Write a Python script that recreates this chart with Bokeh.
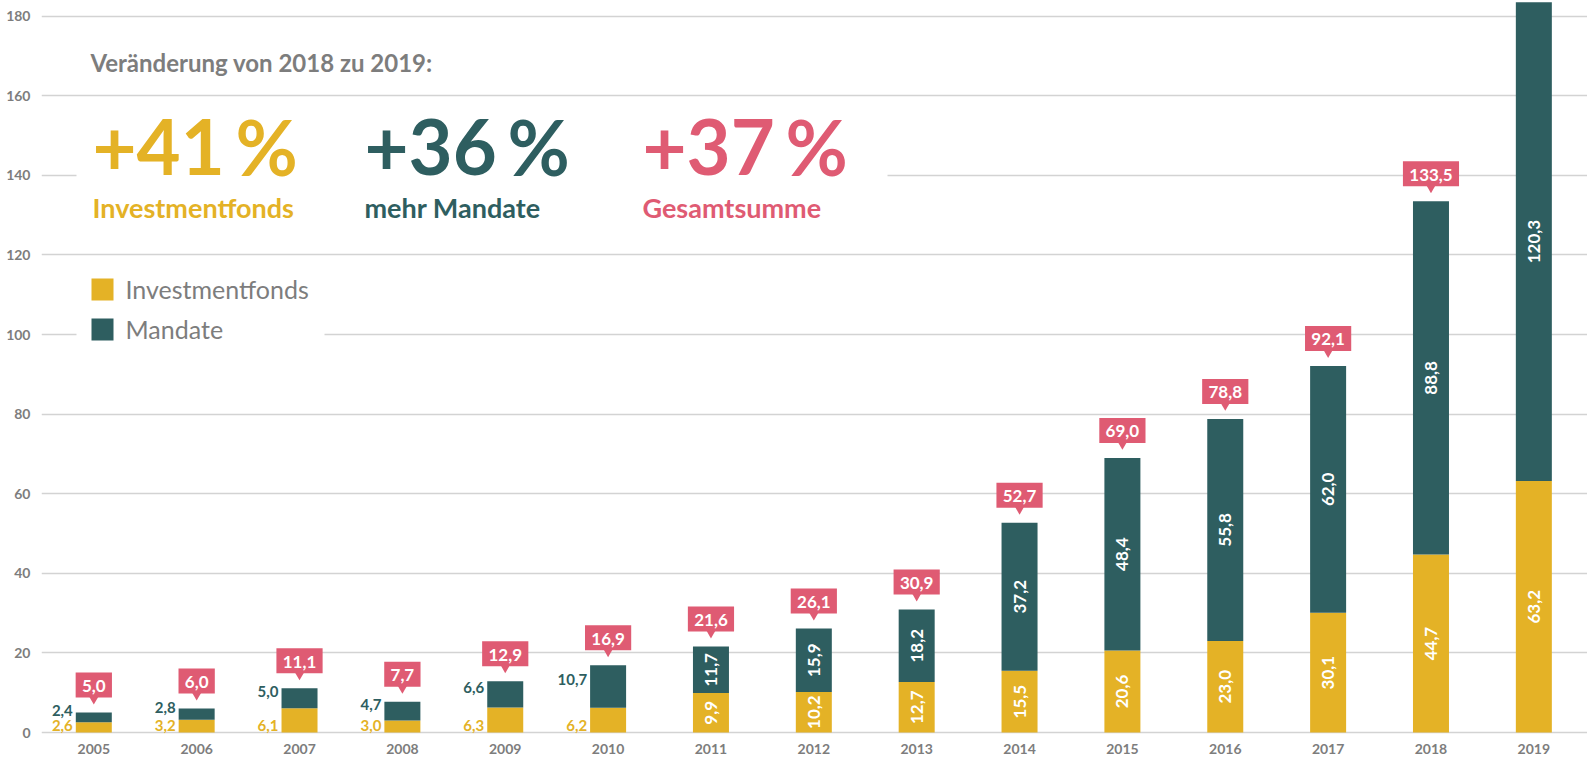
import math
from bokeh.plotting import figure
from bokeh.models import FixedTicker, ColumnDataSource
from bokeh.core.properties import value
from bokeh.embed import file_html
from bokeh.resources import INLINE

# ---------------- data ----------------
years = [2005, 2006, 2007, 2008, 2009, 2010, 2011, 2012, 2013, 2014, 2015, 2016, 2017, 2018, 2019]
investmentfonds = [2.6, 3.2, 6.1, 3.0, 6.3, 6.2, 9.9, 10.2, 12.7, 15.5, 20.6, 23.0, 30.1, 44.7, 63.2]
mandate = [2.4, 2.8, 5.0, 4.7, 6.6, 10.7, 11.7, 15.9, 18.2, 37.2, 48.4, 55.8, 62.0, 88.8, 120.3]
total_years = [2005, 2006, 2007, 2008, 2009, 2010, 2011, 2012, 2013, 2014, 2015, 2016, 2017, 2018]
totals = [5.0, 6.0, 11.1, 7.7, 12.9, 16.9, 21.6, 26.1, 30.9, 52.7, 69.0, 78.8, 92.1, 133.5]
y_ticks = [0, 20, 40, 60, 80, 100, 120, 140, 160, 180]
header = "Veränderung von 2018 zu 2019:"
change_numbers = ["+41", "+36", "+37"]
change_labels = ["Investmentfonds", "mehr Mandate", "Gesamtsumme"]
series_names = ["Investmentfonds", "Mandate"]

YELLOW = "#E4B226"
TEAL = "#2E5E60"
PINK = "#DF5B73"
GREY = "#7D7D7D"
GRID = "#D3D3D3"
FONT = "Lato"

def fmt(v):
    return f"{v:.1f}".replace(".", ",")

# ---------------- geometry (page pixels) ----------------
W, H = 1587, 758
LEFT = 41
PPX = 102.86           # pixels per year
PPU = 3.98             # pixels per unit
ZERO_PX = 732          # y pixel of value 0
X0 = years[0] - (93.3 - LEFT) / PPX
X1 = X0 + (W - LEFT) / PPX
Y0 = -(H - ZERO_PX) / PPU
Y1 = ZERO_PX / PPU

def fx(px):
    return X0 + (px - LEFT) / PPX

def fy(py):
    return Y1 - py / PPU

p = figure(width=W, height=H, x_range=(X0, X1), y_range=(Y0, Y1),
           output_backend="svg", toolbar_location=None,
           min_border_left=LEFT, min_border_right=0, min_border_top=0, min_border_bottom=0)
p.outline_line_color = None
p.background_fill_color = "white"
p.border_fill_color = "white"

p.xaxis.visible = False
p.xgrid.visible = False
p.yaxis.ticker = FixedTicker(ticks=y_ticks)
p.ygrid.ticker = FixedTicker(ticks=y_ticks)
p.ygrid.grid_line_color = GRID
p.ygrid.grid_line_width = 1.5
p.yaxis.axis_line_color = None
p.yaxis.major_tick_line_color = None
p.yaxis.minor_tick_line_color = None
p.yaxis.major_label_standoff = 5
p.yaxis.major_label_text_font = FONT
p.yaxis.major_label_text_font_style = "bold"
p.yaxis.major_label_text_font_size = "14px"
p.yaxis.major_label_text_color = GREY

# white boxes hiding grid lines behind header and legend
p.quad(left=[fx(76), fx(76)], right=[fx(887), fx(324)], bottom=[125, 85], top=[155, 115],
       fill_color="white", line_color=None)

# ---------------- bars ----------------
tops = [a + b for a, b in zip(investmentfonds, mandate)]
src = ColumnDataSource(dict(x=years, inv=investmentfonds, man=mandate, top=tops,
                            zero=[0] * len(years)))
BW = 36 / PPX
p.vbar(x="x", bottom="zero", top="inv", width=BW, source=src, fill_color=YELLOW, line_color=None)
p.vbar(x="x", bottom="inv", top="top", width=BW, source=src, fill_color=TEAL, line_color=None)

# year labels
p.text(x=years, y=[0] * len(years), text=[str(y) for y in years], y_offset=16,
       text_align="center", text_baseline="middle", text_font=value(FONT),
       text_font_style="bold", text_font_size=value("14px"), text_color=GREY)

# values: small bars -> outside left; large bars -> rotated inside
sx, s_man_y, s_inv_t, s_man_t = [], [], [], []
ix, iy, it = [], [], []
for yr, a, b in zip(years, investmentfonds, mandate):
    if a + b < 20:
        sx.append(yr - BW / 2)
        s_man_y.append(a + b / 2)
        s_inv_t.append(fmt(a))
        s_man_t.append(fmt(b))
    else:
        top_vis = min(a + b, Y1)
        ix += [yr, yr]
        iy += [a / 2, (a + top_vis) / 2]
        it += [fmt(a), fmt(b)]

p.text(x=sx, y=[0] * len(sx), text=s_inv_t, x_offset=-3, y_offset=-7,
       text_align="right", text_baseline="middle", text_font=value(FONT),
       text_font_style="bold", text_font_size=value("15px"), text_color=YELLOW)
p.text(x=sx, y=s_man_y, text=s_man_t, x_offset=-3, y_offset=-7,
       text_align="right", text_baseline="middle", text_font=value(FONT),
       text_font_style="bold", text_font_size=value("15px"), text_color=TEAL)
p.text(x=ix, y=iy, text=it, angle=math.pi / 2,
       text_align="center", text_baseline="middle", text_font=value(FONT),
       text_font_style="bold", text_font_size=value("17px"), text_color="white")

# total callouts: box + pointer
box_w = [sum(9.9 if ch.isdigit() else 4.5 for ch in fmt(t)) + 12 for t in totals]
box_y = [t + 27.5 / PPU for t in totals]
p.rect(x=total_years, y=box_y, width=box_w, height=25, width_units="screen",
       height_units="screen", fill_color=PINK, line_color=None)
p.scatter(x=total_years, y=[t + 13.8 / PPU for t in totals], marker="inverted_triangle",
          size=10, fill_color=PINK, line_color=None)
p.text(x=total_years, y=box_y, text=[fmt(t) for t in totals], y_offset=1,
       text_align="center", text_baseline="middle",
       text_font=value(FONT), text_font_style="bold", text_font_size=value("17px"),
       text_color="white")

# ---------------- header ----------------
p.text(x=[fx(90)], y=[fy(62)], text=[header], text_align="left", text_baseline="middle",
       text_font=value(FONT), text_font_style="bold", text_font_size=value("24px"),
       text_color=GREY)
cols = [YELLOW, TEAL, PINK]
lefts = [92, 364, 642]
for num, lab, c, lx in zip(change_numbers, change_labels, cols, lefts):
    p.text(x=[fx(lx)], y=[fy(146)], text=[num], text_align="left", text_baseline="middle",
           text_font=value(FONT), text_font_style="bold", text_font_size=value("76px"),
           text_color=c)
    p.text(x=[fx(lx + 143)], y=[fy(146)], text=["%"], text_align="left", text_baseline="middle",
           text_font=value(FONT), text_font_style="bold", text_font_size=value("76px"),
           text_color=c)
    p.text(x=[fx(lx)], y=[fy(207)], text=[lab], text_align="left", text_baseline="middle",
           text_font=value(FONT), text_font_style="bold", text_font_size=value("27px"),
           text_color=c)

# ---------------- legend ----------------
p.scatter(x=[fx(102), fx(102)], y=[fy(289), fy(329)], marker="square", size=22,
          fill_color=[YELLOW, TEAL], line_color=None)
p.text(x=[fx(125), fx(125)], y=[fy(288), fy(328)], text=series_names, text_align="left",
       text_baseline="middle", text_font=value(FONT), text_font_size=value("25px"),
       text_color=GREY)

open("out.html", "w").write(file_html(p, INLINE))
